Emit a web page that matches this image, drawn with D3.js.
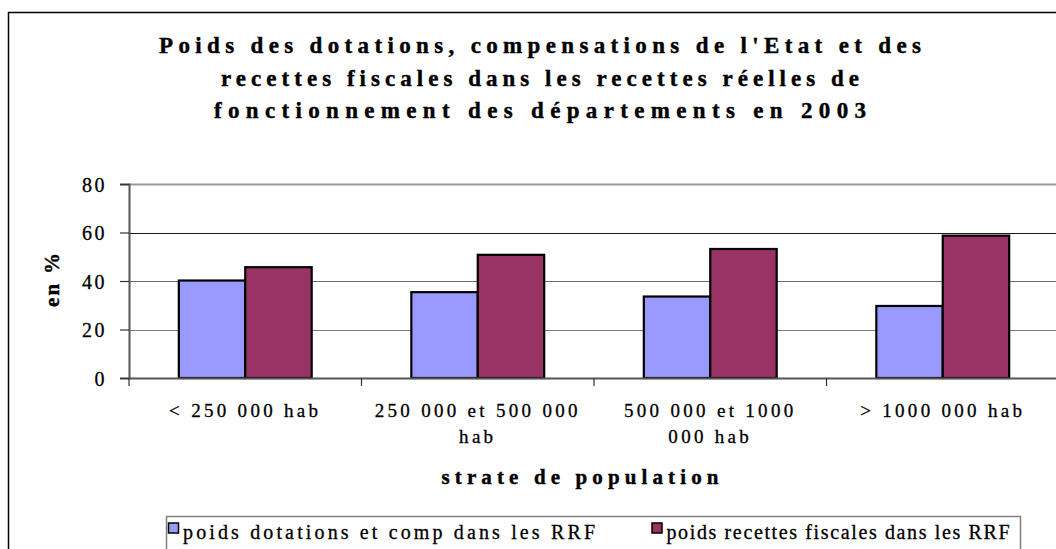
<!DOCTYPE html>
<html>
<head>
<meta charset="utf-8">
<script src="https://cdn.jsdelivr.net/npm/d3@7"></script>
<style>
  html, body { margin: 0; padding: 0; background: #fff; }
  svg { display: block; }
  text { font-family: "Liberation Serif", "Times New Roman", serif; fill: #000; }
  text.reg { stroke: #000; stroke-width: 0.3; }
  text.bld { stroke: #000; stroke-width: 0.4; }
</style>
</head>
<body>
<svg id="chart" width="1056" height="549"></svg>
<script>
// ---- data ----
const categories = ["< 250 000 hab", "250 000 et 500 000 hab", "500 000 et 1000 000 hab", "> 1000 000 hab"];
const seriesNames = ["poids dotations et comp dans les RRF", "poids recettes fiscales dans les RRF"];
const dotationsValues = [40.2, 35.4, 33.6, 29.7];
const fiscalesValues = [45.7, 50.8, 53.2, 58.7];
const yTicks = [0, 20, 40, 60, 80];
const titleLines = [
  "Poids des dotations, compensations de l'Etat et des",
  "recettes fiscales dans les recettes réelles de",
  "fonctionnement des départements en 2003"
];
const yTitle = "en %";
const xTitle = "strate de population";
const seriesColors = ["#9999FF", "#993366"];

// ---- layout ----
const svg = d3.select("#chart");
const plot = { left: 129, right: 1059, top: 184, bottom: 378 };

// outer frame
svg.append("rect").attr("x", 8.5).attr("y", 12.5).attr("width", 1100).attr("height", 600)
  .attr("fill", "none").attr("stroke", "#000").attr("stroke-width", 1.5);

// title
const titleWidths = [762, 638, 652];
svg.append("g").selectAll("text").data(titleLines).join("text")
  .attr("class", "bld")
  .attr("x", 540).attr("y", (d, i) => 53 + i * 32.5)
  .attr("text-anchor", "middle")
  .attr("font-size", 23).attr("font-weight", "bold")
  .attr("textLength", (d, i) => titleWidths[i]).attr("lengthAdjust", "spacing")
  .text(d => d);

// scales
const x0 = d3.scaleBand().domain(categories).range([plot.left, plot.right]).padding(0);
const x1 = d3.scaleBand().domain(seriesNames).range([0, x0.bandwidth()]).paddingInner(0).paddingOuter(0.75);
const y = d3.scaleLinear().domain([0, 80]).range([plot.bottom, plot.top]);

// gridlines
const gridStyle = { 20: ["#7a7a7a", 1.2], 40: ["#6a6a6a", 1.2], 60: ["#1a1a1a", 1.2], 80: ["#9a9a9a", 2] };
svg.append("g").selectAll("line").data(yTicks.filter(t => t > 0)).join("line")
  .attr("x1", plot.left).attr("x2", 1056)
  .attr("y1", d => Math.round(y(d)) + 0.5).attr("y2", d => Math.round(y(d)) + 0.5)
  .attr("stroke", d => gridStyle[d][0]).attr("stroke-width", d => gridStyle[d][1]);

// bars
const data = categories.map((c, i) => ({ cat: c, vals: [dotationsValues[i], fiscalesValues[i]] }));
const groups = svg.append("g").selectAll("g").data(data).join("g")
  .attr("transform", d => `translate(${x0(d.cat)},0)`);
groups.selectAll("rect").data(d => d.vals.map((v, j) => ({ s: seriesNames[j], v, j })))
  .join("rect")
  .attr("x", d => x1(d.s)).attr("width", x1.bandwidth())
  .attr("y", d => y(d.v)).attr("height", d => y(0) - y(d.v))
  .attr("fill", d => seriesColors[d.j]).attr("stroke", "#000").attr("stroke-width", 2.2);

// y axis
const yAxis = d3.axisLeft(y).tickValues(yTicks).tickSize(9).tickPadding(13);
const gy = svg.append("g").attr("transform", `translate(${plot.left},0)`).call(yAxis);
gy.select(".domain").attr("stroke", "#555").attr("stroke-width", 2);
gy.selectAll(".tick line").attr("stroke", "#333").attr("stroke-width", 1.2);
gy.selectAll(".tick text").attr("class", "reg").attr("font-size", 20).attr("letter-spacing", 2.5)
  .attr("font-family", "Liberation Serif").attr("fill", "#000").attr("dy", "0.35em");

// x axis
const xAxis = d3.axisBottom(x0).tickSize(0).tickFormat("");
const gx = svg.append("g").attr("transform", `translate(0,${plot.bottom})`).call(xAxis);
gx.select(".domain").attr("stroke", "#555").attr("stroke-width", 2);
// category boundary ticks
svg.append("g").selectAll("line").data(categories).join("line")
  .attr("x1", d => x0(d)).attr("x2", d => x0(d))
  .attr("y1", plot.bottom).attr("y2", plot.bottom + 8)
  .attr("stroke", "#333").attr("stroke-width", 1.2);

// category labels with wrapping
const labelG = svg.append("g");
const wrapW = x0.bandwidth() * 0.9;
categories.forEach(c => {
  const cx = x0(c) + x0.bandwidth() / 2;
  const t = labelG.append("text").attr("class", "reg").attr("x", cx).attr("y", 417)
    .attr("text-anchor", "middle").attr("font-size", 19).attr("letter-spacing", 3.3);
  const words = c.split(" ");
  let line = [];
  let tspan = t.append("tspan").attr("x", cx).attr("dy", 0);
  words.forEach(w => {
    line.push(w);
    tspan.text(line.join(" "));
    if (tspan.node().getComputedTextLength() > wrapW && line.length > 1) {
      line.pop();
      tspan.text(line.join(" "));
      line = [w];
      tspan = t.append("tspan").attr("x", cx).attr("dy", 26).text(w);
    }
  });
});

// axis titles
svg.append("text").attr("class", "bld").attr("transform", "translate(52,280) rotate(-90)")
  .attr("text-anchor", "middle").attr("dy", "0.35em")
  .attr("font-size", 21).attr("font-weight", "bold")
  .attr("textLength", 54).attr("lengthAdjust", "spacing")
  .text(yTitle);
svg.append("text").attr("class", "bld").attr("x", 580).attr("y", 484).attr("text-anchor", "middle")
  .attr("font-size", 21).attr("font-weight", "bold")
  .attr("textLength", 277).attr("lengthAdjust", "spacing")
  .text(xTitle);

// legend
const lg = svg.append("g");
lg.append("rect").attr("x", 166.5).attr("y", 516.5).attr("width", 854).attr("height", 60)
  .attr("fill", "#fff").attr("stroke", "#808080").attr("stroke-width", 1.5);
const legendX = [168.5, 652];
const legendTextW = [412, 343];
seriesNames.forEach((s, i) => {
  lg.append("rect").attr("x", legendX[i]).attr("y", 523).attr("width", 10).attr("height", 10)
    .attr("fill", seriesColors[i]).attr("stroke", "#000").attr("stroke-width", 1.5);
  lg.append("text").attr("class", "reg").attr("x", legendX[i] + 14.5).attr("y", 539)
    .attr("font-size", 20)
    .attr("textLength", legendTextW[i]).attr("lengthAdjust", "spacing")
    .text(s);
});
</script>
</body>
</html>
